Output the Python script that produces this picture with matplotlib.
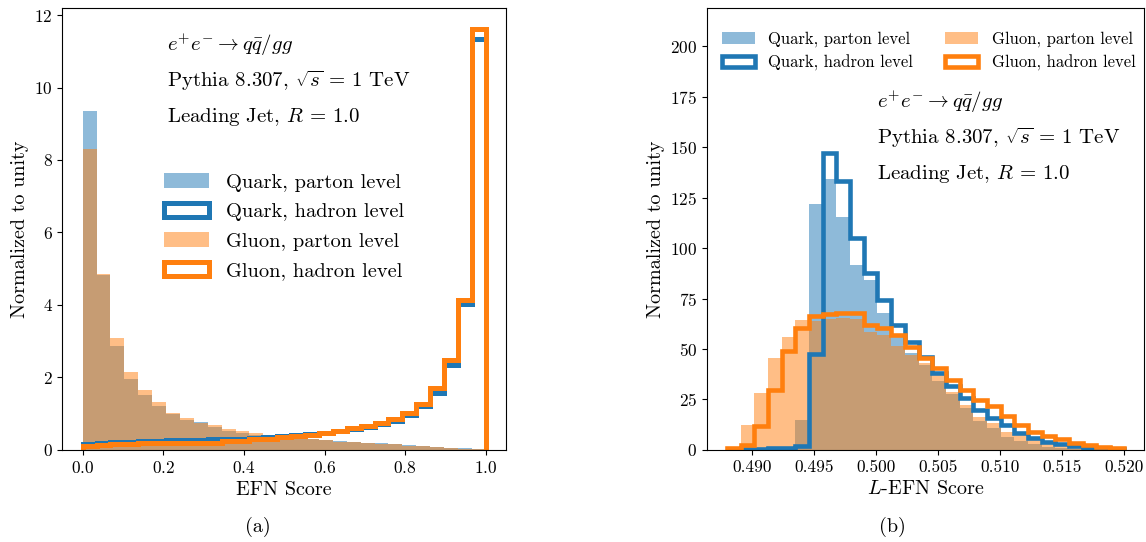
import numpy as np
import matplotlib
matplotlib.use("Agg")
import matplotlib.pyplot as plt

plt.rcParams['font.family'] = 'serif'
plt.rcParams['font.serif'] = ['cmr10']
plt.rcParams['mathtext.fontset'] = 'cm'
plt.rcParams['axes.formatter.use_mathtext'] = True
plt.rcParams['axes.unicode_minus'] = False

# (a) EFN score, 29 bins on [0, 1]
bins_a = np.linspace(0.0, 1.0, 30)
q_parton_a = [9.35, 4.83, 2.87, 1.96, 1.51, 1.21, 1.00, 0.83, 0.77, 0.63, 0.53, 0.47, 0.41, 0.40, 0.40,
              0.34, 0.30, 0.27, 0.24, 0.22, 0.20, 0.19, 0.16, 0.13, 0.11, 0.09, 0.06, 0.04, 0.01]
g_parton_a = [8.29, 4.86, 3.10, 2.16, 1.64, 1.33, 1.03, 0.89, 0.74, 0.69, 0.58, 0.52, 0.47, 0.40, 0.37,
              0.32, 0.29, 0.26, 0.23, 0.21, 0.19, 0.17, 0.15, 0.11, 0.10, 0.07, 0.06, 0.03, 0.01]
q_hadron_a = [0.17, 0.19, 0.21, 0.23, 0.24, 0.25, 0.26, 0.27, 0.28, 0.29, 0.30, 0.31, 0.33, 0.35, 0.37,
              0.41, 0.44, 0.47, 0.52, 0.57, 0.62, 0.70, 0.81, 0.97, 1.20, 1.56, 2.34, 4.02, 11.34]
g_hadron_a = [0.10, 0.13, 0.15, 0.17, 0.18, 0.19, 0.19, 0.20, 0.20, 0.20, 0.25, 0.25, 0.29, 0.31, 0.35,
              0.39, 0.42, 0.46, 0.53, 0.61, 0.65, 0.74, 0.85, 1.01, 1.27, 1.70, 2.48, 4.14, 11.61]

# (b) L-EFN score, 29 bins on [0.488, 0.520]
bins_b = np.linspace(0.488, 0.520, 30)
q_parton_b = [0, 0, 0, 0.3, 1.6, 15, 122, 134.3, 115.5, 91.8, 84, 68, 56, 48, 42,
              34.3, 27.6, 20.7, 14.5, 10.7, 6.6, 4.6, 2.8, 1.6, 0.8, 0.4, 0.2, 0.1, 0]
g_parton_b = [1.0, 12.4, 28.1, 45.5, 55.9, 64.5, 64, 64.8, 65.3, 65, 58.2, 57.1, 51.6, 47, 43,
              37.3, 28.9, 22.3, 16.5, 13.2, 9.1, 7.4, 5.3, 3.6, 2.5, 1.6, 1.0, 0.5, 0.3]
q_hadron_b = [0, 0.3, 0.5, 0.7, 1.0, 1.8, 47.5, 147, 133.5, 105, 87.7, 74.2, 62, 53.5, 45.8,
              38, 31.5, 25.5, 20, 16, 12.5, 8.5, 6.0, 4.0, 2.8, 1.8, 1.0, 0.5, 0.2]
g_hadron_b = [1.0, 2.6, 12, 29.8, 48.8, 60.5, 66.5, 67.3, 67.7, 67.7, 61.8, 60.2, 56.7, 51, 45.5,
              40.5, 34.4, 29.8, 24.5, 21.5, 17, 12.4, 9.1, 7.0, 5.5, 3.6, 2.5, 1.6, 1.0]

labels = ['Quark, parton level', 'Quark, hadron level', 'Gluon, parton level', 'Gluon, hadron level']
proc_text = [r'$e^{+}e^{-}\rightarrow q\bar{q}/gg$',
             r'Pythia 8.307, $\sqrt{s}\,=\,1$ TeV',
             r'Leading Jet, $R\,=\,1.0$']


def draw_hists(ax, bins, qp, qh, gp, gh, lw):
    x = bins[:-1]
    ax.hist(x, bins=bins, weights=qp, color='C0', alpha=0.5, label=labels[0])
    ax.hist(x, bins=bins, weights=qh, histtype='step', color='C0', lw=lw, label=labels[1])
    ax.hist(x, bins=bins, weights=gp, color='C1', alpha=0.5, label=labels[2])
    ax.hist(x, bins=bins, weights=gh, histtype='step', color='C1', lw=lw, label=labels[3])


fig = plt.figure(figsize=(11.46, 5.42), dpi=100)
ax1 = fig.add_axes([0.0545, 0.170, 0.387, 0.815])
ax2 = fig.add_axes([0.617, 0.170, 0.381, 0.815])

# left panel
draw_hists(ax1, bins_a, q_parton_a, q_hadron_a, g_parton_a, g_hadron_a, 3.6)
ax1.set_xticks(np.arange(0, 1.01, 0.2))
ax1.set_yticks(np.arange(0, 13, 2))
ax1.set_xlabel('EFN Score', fontsize=14.5)
ax1.set_ylabel('Normalized to unity', fontsize=14.5)
ax1.tick_params(labelsize=12.5)
for i, t in enumerate(proc_text):
    ax1.text(0.236, 0.916 - i * 0.081, t, transform=ax1.transAxes, fontsize=15, va='center')
ax1.legend(loc='center', bbox_to_anchor=(0.50, 0.505), frameon=False, fontsize=14.7,
           handlelength=2.2, handletextpad=0.85, labelspacing=0.55)

# right panel
draw_hists(ax2, bins_b, q_parton_b, q_hadron_b, g_parton_b, g_hadron_b, 3.3)
ax2.set_ylim(0, 219)
ax2.set_xticks(np.arange(0.490, 0.5201, 0.005))
ax2.set_xticklabels(['%.3f' % v for v in np.arange(0.490, 0.5201, 0.005)])
ax2.set_yticks(np.arange(0, 201, 25))
ax2.set_xlabel(r'$L$-EFN Score', fontsize=14.5)
ax2.set_ylabel('Normalized to unity', fontsize=14.5)
ax2.tick_params(labelsize=12.5)
for i, t in enumerate(proc_text):
    ax2.text(0.389, 0.787 - i * 0.081, t, transform=ax2.transAxes, fontsize=15, va='center')
ax2.legend(loc='center', bbox_to_anchor=(0.507, 0.903), frameon=False, fontsize=12, ncol=2,
           handletextpad=0.8, labelspacing=0.45, columnspacing=1.9)

fig.text(0.225, 0.028, '(a)', fontsize=14.5, ha='center', va='center')
fig.text(0.779, 0.028, '(b)', fontsize=14.5, ha='center', va='center')

fig.savefig('out.png', dpi=100)
